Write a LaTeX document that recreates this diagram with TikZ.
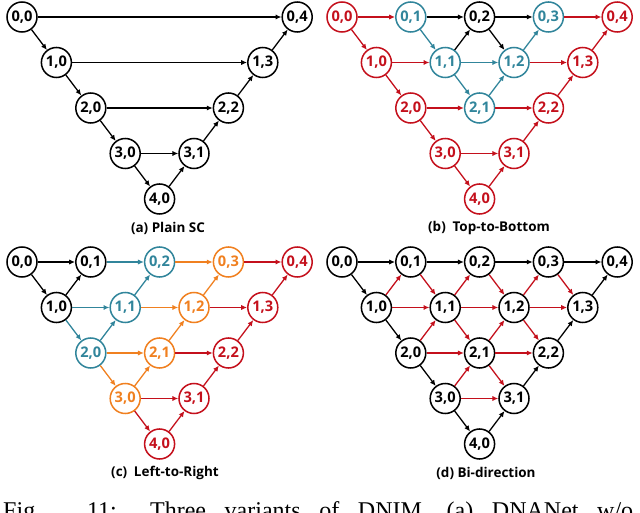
\documentclass[tikz,border=0pt]{standalone}
\usepackage{fontspec}
\setmainfont{Open Sans}
\newfontfamily\figserif{Liberation Serif}
\usetikzlibrary{arrows.meta}

\definecolor{cred}{RGB}{196,16,28}
\definecolor{cteal}{RGB}{49,133,155}
\definecolor{corange}{RGB}{240,128,32}

\tikzset{
  unit/.style={circle, draw, line width=1.3pt, minimum size=0.9cm, inner sep=0pt,
    font=\fontsize{12.5}{12.5}\selectfont\bfseries},
  conn/.style={line width=1.1pt, -{Latex[length=5pt,width=4.5pt]}},
  subcap/.style={font=\fontsize{11.5}{13}\selectfont\bfseries}
}

\begin{document}
\begin{tikzpicture}[x=0.03cm, y=-0.03cm]
        \useasboundingbox (0,0) rectangle (640,513);
        \clip (0,0) rectangle (640,513);

        % (a) plain skip connections
        \foreach \i/\j in {0/0,1/0,2/0,3/0,4/0,3/1,2/2,1/3,0/4}
            \node[unit] (a\i\j) at ({22+(2*\j+\i)*34.4}, {17+\i*45.5}) {\i,\j};
        \foreach \s/\t in {00/10,10/20,20/30,30/40,40/31,31/22,22/13,13/04,
                           00/04,10/13,20/22,30/31}
            \draw[conn] (a\s) -- (a\t);
        \node[subcap] (capa) at (168,228) {(a) Plain SC};

        % (b) top-to-bottom
        \foreach \i/\j/\c in {0/0/cred,1/0/cred,2/0/cred,3/0/cred,4/0/cred,3/1/cred,2/2/cred,1/3/cred,0/4/cred,
                              0/1/cteal,1/1/cteal,2/1/cteal,1/2/cteal,0/3/cteal,0/2/black}
            \node[unit, draw=\c, text=\c] (b\i\j) at ({342+(2*\j+\i)*34.4}, {17+\i*45.5}) {\i,\j};
        \foreach \s/\t/\c in {00/01/cred,01/02/black,02/03/black,03/04/cred,
                              00/10/cred,10/20/cred,20/30/cred,30/40/cred,
                              40/31/cred,31/22/cred,22/13/cred,13/04/cred,
                              10/11/cred,11/12/cteal,12/13/cred,20/21/cred,21/22/cred,30/31/cred,
                              01/11/cteal,11/21/cteal,21/12/cteal,12/03/cteal,
                              11/02/black,02/12/black}
            \draw[conn, \c] (b\s) -- (b\t);
        \node[subcap] (capb) at (489,228) {(b)\enspace Top-to-Bottom};

        % (c) left-to-right
        \foreach \i/\j/\c in {0/0/black,0/1/black,1/0/black,
                              0/2/cteal,1/1/cteal,2/0/cteal,
                              0/3/corange,1/2/corange,2/1/corange,3/0/corange,
                              0/4/cred,1/3/cred,2/2/cred,3/1/cred,4/0/cred}
            \node[unit, draw=\c, text=\c] (c\i\j) at ({22+(2*\j+\i)*34.4}, {262+\i*45.5}) {\i,\j};
        \foreach \s/\t/\c in {00/01/black,00/10/black,10/01/black,
                              01/02/cteal,10/11/cteal,10/20/cteal,20/11/cteal,11/02/cteal,
                              02/03/corange,11/12/corange,20/21/corange,20/30/corange,
                              30/21/corange,21/12/corange,12/03/corange,
                              03/04/cred,12/13/cred,21/22/cred,30/31/cred,30/40/cred,
                              40/31/cred,31/22/cred,22/13/cred,13/04/cred}
            \draw[conn, \c] (c\s) -- (c\t);
        \node[subcap] (capc) at (165,473) {(c)\enspace Left-to-Right};

        % (d) bi-direction
        \foreach \i/\j in {0/0,0/1,0/2,0/3,0/4,1/0,1/1,1/2,1/3,2/0,2/1,2/2,3/0,3/1,4/0}
            \node[unit] (d\i\j) at ({342+(2*\j+\i)*34.4}, {262+\i*45.5}) {\i,\j};
        \foreach \s/\t/\c in {00/01/black,01/02/black,02/03/black,03/04/black,
                              00/10/black,10/20/black,20/30/black,30/40/black,
                              40/31/black,31/22/black,22/13/black,13/04/black,
                              10/01/cred,01/11/cred,11/02/cred,02/12/cred,12/03/cred,03/13/cred,
                              10/11/cred,11/12/cred,12/13/cred,
                              20/11/cred,11/21/cred,21/12/cred,12/22/cred,
                              20/21/cred,21/22/cred,30/21/cred,21/31/cred,30/31/cred}
            \draw[conn, \c] (d\s) -- (d\t);
        \node[subcap] (capd) at (486,473) {(d) Bi-direction};

        % figure caption, cut by the page edge
        \node[anchor=base west, inner sep=0pt, font=\figserif\fontsize{20.5}{22}\selectfont] (figcap) at (3,518)
            {\makebox[18.9cm][s]{Fig. 11: Three variants of DNIM. (a) DNANet w/o}};
\end{tikzpicture}
\end{document}
